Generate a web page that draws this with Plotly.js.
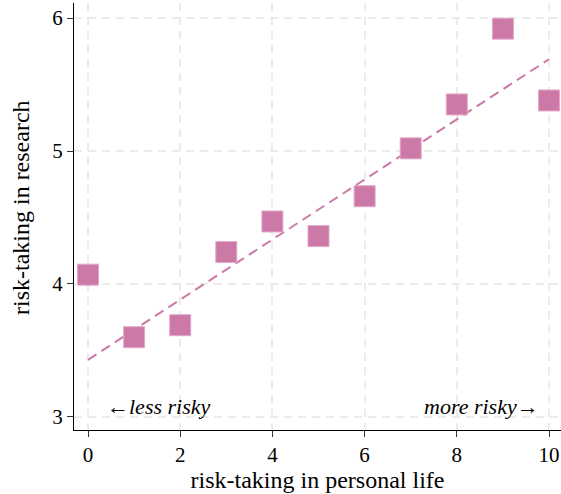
<!DOCTYPE html>
<html><head><meta charset="utf-8">
<script src="https://cdn.plot.ly/plotly-3.0.1.min.js"></script>
<style>html,body{margin:0;padding:0;background:#fff}</style>
</head><body><div id="chart" style="width:561px;height:494px"></div>
<script>
const personalRisk = [0,1,2,3,4,5,6,7,8,9,10];
const researchRisk = [4.07,3.60,3.69,4.24,4.47,4.36,4.66,5.02,5.35,5.92,5.38];
const fitX = [0,10];
const fitY = [3.43,5.69];
const xTicks = [0,2,4,6,8,10];
const yTicks = [3,4,5,6];
const xTitle = 'risk-taking in personal life';
const yTitle = 'risk-taking in research';
const col = '#cc79a7';
const font = 'Liberation Serif, DejaVu Serif, serif';

const traces = [
  {x: fitX, y: fitY, mode:'lines', type:'scatter',
   line:{color:col, width:2, dash:'10px,6px'}, hoverinfo:'skip'},
  {x: personalRisk, y: researchRisk, mode:'markers', type:'scatter',
   marker:{symbol:'square', size:21, color:col, line:{color:'#e3a9c9', width:1}}}
];
const layout = {
  width:561, height:494, showlegend:false,
  margin:{l:74, r:0, t:3, b:64},
  paper_bgcolor:'#fff', plot_bgcolor:'#fff',
  font:{family:font, color:'#000', size:20},
  xaxis:{range:[-0.304,10.26], tickvals:xTicks, ticktext:xTicks.map(String),
    showline:true, linecolor:'#000', linewidth:1, ticks:'outside', ticklen:6, tickcolor:'#333',
    showgrid:true, gridcolor:'#ebebeb', gridwidth:2, griddash:'8px,6px', zeroline:false,
    tickfont:{size:21, family:font},
    title:{text:xTitle, font:{size:24, family:font}, standoff:2}},
  yaxis:{range:[2.902,6.113], tickvals:yTicks, ticktext:yTicks.map(String),
    showline:true, linecolor:'#000', linewidth:1, ticks:'outside', ticklen:6, tickcolor:'#333',
    showgrid:true, gridcolor:'#ebebeb', gridwidth:2, griddash:'8px,6px', zeroline:false,
    tickfont:{size:21, family:font}},
  annotations:[
    {x:-0.109, y:0.522, xref:'paper', yref:'paper', xanchor:'center', yanchor:'middle',
     textangle:-90, showarrow:false, text:yTitle, font:{size:24, family:font}},
    {x:0.37, y:3.075, xref:'x', yref:'y', xanchor:'left', yanchor:'middle', showarrow:false,
     text:'←<i>less risky</i>', font:{size:22, family:font}},
    {x:9.82, y:3.075, xref:'x', yref:'y', xanchor:'right', yanchor:'middle', showarrow:false,
     text:'<i>more risky</i>→', font:{size:22, family:font}}
  ]
};
Plotly.newPlot('chart', traces, layout, {displayModeBar:false, staticPlot:true});
</script></body></html>
